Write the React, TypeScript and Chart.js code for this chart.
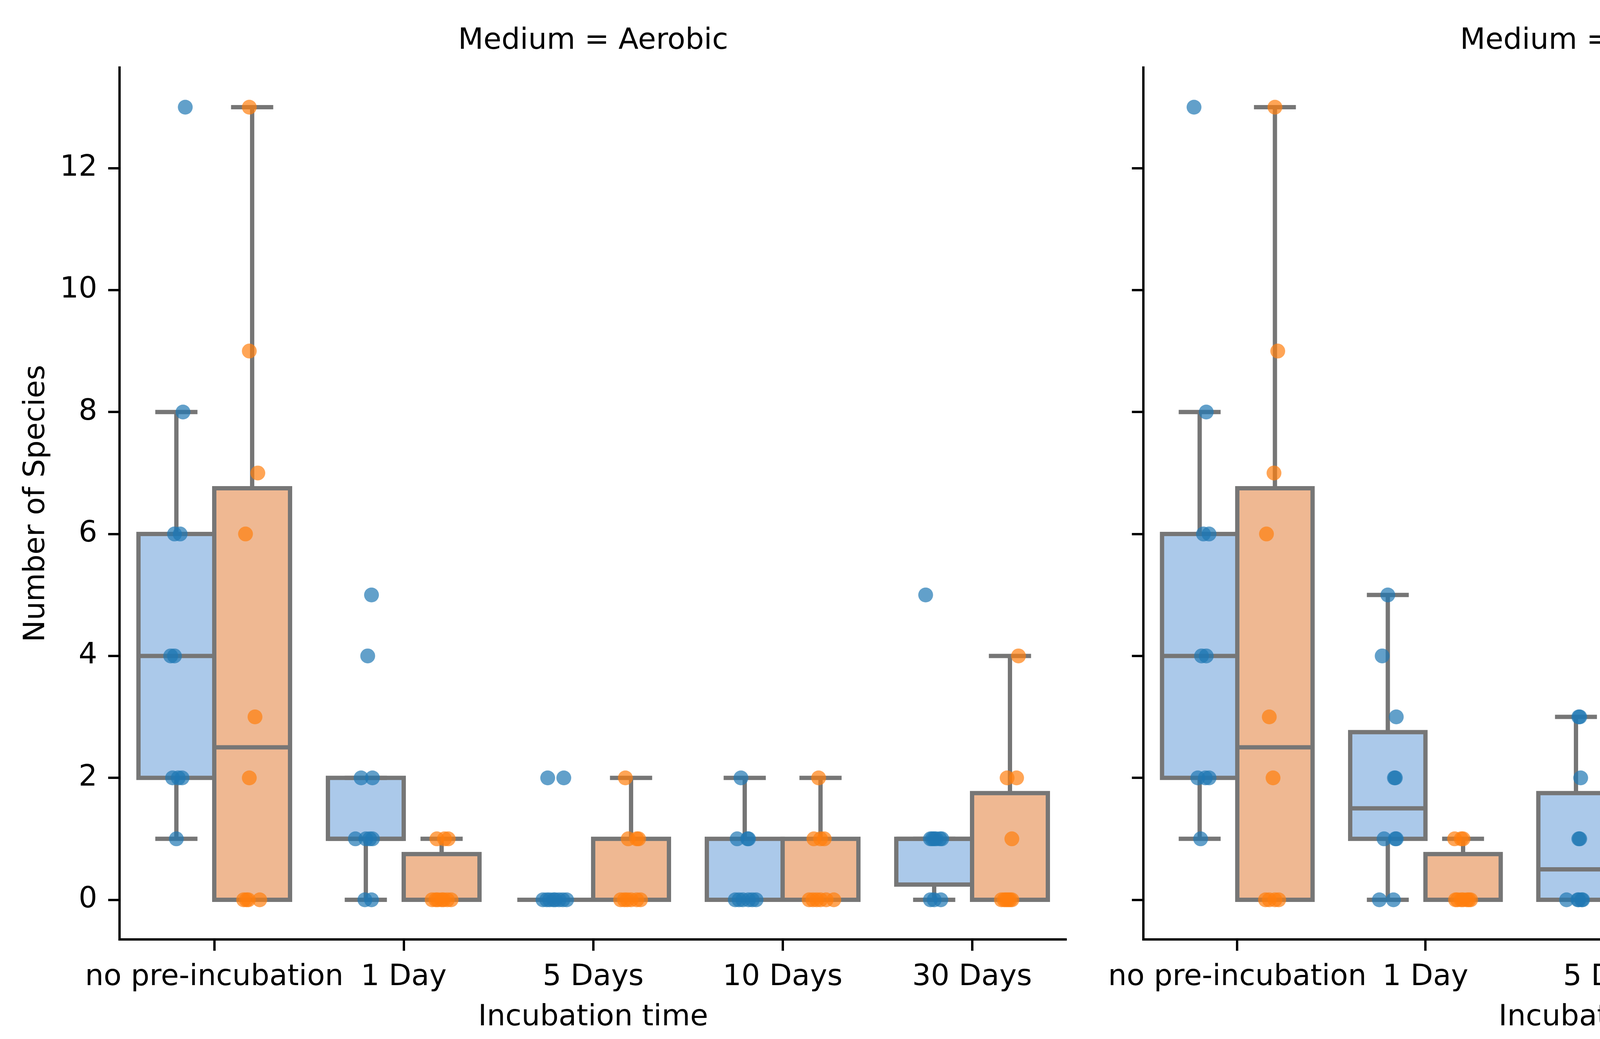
import React, { useEffect, useRef } from 'react';
import { Chart, registerables } from 'chart.js';

Chart.register(...registerables);

// ---------------- data ----------------
const categories = ['no pre-incubation', '1 Day', '5 Days', '10 Days', '30 Days'];
const seriesNames = ['Facultative anaerobe', 'Obligate anaerobe'];
const panelTitles = ['Medium = Aerobic', 'Medium = Anaerobic'];
const yTicks = [0, 2, 4, 6, 8, 10, 12];

// Number of species per sample, one inner list per incubation time
const aerobicFacultative = [
  [13, 8, 6, 6, 4, 4, 2, 2, 2, 1],
  [5, 4, 2, 2, 1, 1, 1, 1, 0, 0],
  [2, 2, 0, 0, 0, 0, 0, 0, 0, 0],
  [2, 1, 1, 1, 0, 0, 0, 0, 0, 0],
  [5, 1, 1, 1, 1, 1, 1, 0, 0, 0],
];
const aerobicObligate = [
  [13, 9, 7, 6, 3, 2, 0, 0, 0, 0],
  [1, 1, 1, 0, 0, 0, 0, 0, 0, 0],
  [2, 1, 1, 1, 0, 0, 0, 0, 0, 0],
  [2, 1, 1, 1, 0, 0, 0, 0, 0, 0],
  [4, 2, 2, 1, 0, 0, 0, 0, 0, 0],
];
const anaerobicFacultative = [
  [13, 8, 6, 6, 4, 4, 2, 2, 2, 1],
  [5, 4, 3, 2, 2, 1, 1, 1, 0, 0],
  [3, 3, 2, 1, 1, 0, 0, 0, 0, 0],
  [2, 1, 1, 1, 0, 0, 0, 0, 0, 0],
  [3, 2, 1, 1, 0, 0, 0, 0, 0, 0],
];
const anaerobicObligate = [
  [13, 9, 7, 6, 3, 2, 0, 0, 0, 0],
  [1, 1, 1, 0, 0, 0, 0, 0, 0, 0],
  [2, 2, 1, 0, 0, 0, 0, 0, 0, 0],
  [2, 1, 0, 0, 0, 0, 0, 0, 0, 0],
  [3, 1, 1, 0, 0, 0, 0, 0, 0, 0],
];

// Strip-plot jitter (category units), same order as the values
const aerobicFacultativeJitter = [
  [0.047, 0.035, -0.01, 0.02, -0.03, -0.01, -0.02, 0.01, 0.03, 0.0],
  [0.03, 0.01, -0.025, 0.035, -0.055, 0.0, 0.035, 0.02, -0.005, 0.03],
  [-0.04, 0.045, -0.065, -0.045, -0.03, -0.01, 0.0, 0.02, 0.04, 0.06],
  [-0.02, -0.04, 0.015, 0.02, -0.05, -0.03, -0.01, 0.02, 0.04, 0.06],
  [-0.045, -0.02, -0.01, 0.0, 0.01, 0.03, 0.04, -0.02, 0.0, 0.035],
];
const aerobicObligateJitter = [
  [-0.015, -0.015, 0.03, -0.035, 0.015, -0.015, -0.045, -0.03, -0.02, 0.04],
  [-0.025, 0.015, 0.035, -0.05, -0.03, -0.02, 0.0, 0.01, 0.03, 0.05],
  [-0.03, -0.015, 0.03, 0.04, -0.055, -0.035, -0.02, 0.0, 0.03, 0.05],
  [-0.01, -0.035, 0.0, 0.02, -0.06, -0.04, -0.02, 0.0, 0.03, 0.07],
  [0.045, -0.015, 0.035, 0.01, -0.045, -0.03, -0.02, -0.01, 0.0, 0.01],
];
const anaerobicFacultativeJitter = [
  [-0.03, 0.035, 0.02, 0.05, 0.01, 0.035, -0.01, 0.03, 0.05, 0.005],
  [0.0, -0.03, 0.045, 0.035, 0.04, -0.02, 0.04, 0.045, -0.045, 0.03],
  [0.015, 0.02, 0.025, 0.015, 0.02, -0.05, 0.01, 0.015, 0.03, 0.035],
  [-0.045, -0.01, 0.0, 0.01, -0.02, 0.0, 0.01, 0.02, 0.03, 0.04],
  [-0.035, 0.015, -0.05, -0.01, -0.05, -0.04, -0.02, -0.01, 0.01, 0.03],
];
const anaerobicObligateJitter = [
  [0.0, 0.015, -0.005, -0.045, -0.03, -0.01, -0.05, -0.03, 0.0, 0.02],
  [-0.045, -0.01, 0.0, -0.04, -0.03, -0.01, 0.0, 0.02, 0.03, 0.04],
  [-0.025, 0.005, -0.01, -0.05, -0.03, -0.02, -0.01, 0.0, 0.02, 0.04],
  [0.045, 0.02, -0.05, -0.035, -0.02, -0.01, 0.0, 0.01, 0.03, 0.065],
  [0.01, -0.02, -0.025, -0.035, -0.025, -0.015, -0.01, 0.0, 0.01, 0.04],
];

// ---------------- style ----------------
const FONT = "'DejaVu Sans', 'Liberation Sans', sans-serif";
const FS = 75;
const BOX_FILL = ['#abc9ea', '#efb892'];
const POINT_COLOR = ['rgba(31,119,180,0.7)', 'rgba(255,127,14,0.7)'];
const EDGE = '#767676';
const DODGE = [-0.2, 0.2];
const HALF_BOX = 0.2;
const HALF_CAP = 0.1;
const BOX_LW = 11;

function quantile(s: number[], p: number) {
  const idx = p * (s.length - 1);
  const lo = Math.floor(idx);
  const hi = Math.ceil(idx);
  return s[lo] + (s[hi] - s[lo]) * (idx - lo);
}

function boxStats(values: number[]) {
  const s = [...values].sort((a, b) => a - b);
  const q1 = quantile(s, 0.25);
  const med = quantile(s, 0.5);
  const q3 = quantile(s, 0.75);
  const iqr = q3 - q1;
  const lowF = q1 - 1.5 * iqr;
  const highF = q3 + 1.5 * iqr;
  const inside = s.filter((v) => v >= lowF && v <= highF);
  return { q1, med, q3, lo: Math.min(...inside), hi: Math.max(...inside) };
}

const boxPlugin = {
  id: 'boxes',
  beforeDatasetsDraw(chart: any, _args: any, opts: any) {
    const groups = (opts && opts.groups) || [];
    const xs = chart.scales.x;
    const ys = chart.scales.y;
    const ctx = chart.ctx as CanvasRenderingContext2D;
    ctx.save();
    ctx.strokeStyle = EDGE;
    ctx.lineWidth = BOX_LW;
    ctx.lineJoin = 'miter';
    const line = (x0: number, y0: number, x1: number, y1: number, cap: CanvasLineCap) => {
      ctx.lineCap = cap;
      ctx.beginPath();
      ctx.moveTo(x0, y0);
      ctx.lineTo(x1, y1);
      ctx.stroke();
    };
    for (const g of groups) {
      const st = boxStats(g.values);
      const x0 = xs.getPixelForValue(g.pos - HALF_BOX);
      const x1 = xs.getPixelForValue(g.pos + HALF_BOX);
      const xc = xs.getPixelForValue(g.pos);
      const c0 = xs.getPixelForValue(g.pos - HALF_CAP);
      const c1 = xs.getPixelForValue(g.pos + HALF_CAP);
      const yq1 = ys.getPixelForValue(st.q1);
      const yq3 = ys.getPixelForValue(st.q3);
      const ymed = ys.getPixelForValue(st.med);
      const ylo = ys.getPixelForValue(st.lo);
      const yhi = ys.getPixelForValue(st.hi);
      ctx.fillStyle = g.fill;
      ctx.fillRect(x0, yq3, x1 - x0, yq1 - yq3);
      ctx.lineCap = 'butt';
      ctx.strokeRect(x0, yq3, x1 - x0, yq1 - yq3);
      line(xc, yq3, xc, yhi, 'butt');
      line(xc, yq1, xc, ylo, 'butt');
      line(c0, yhi, c1, yhi, 'square');
      line(c0, ylo, c1, ylo, 'square');
      line(x0, ymed, x1, ymed, 'butt');
    }
    ctx.restore();
  },
};

type PanelProps = {
  title: string;
  facultative: number[][];
  facultativeJitter: number[][];
  obligate: number[][];
  obligateJitter: number[][];
  left: number;
  width: number;
  yAxisWidth: number;
  rightPad: number;
  showYLabels: boolean;
};

const HEIGHT = 2661;

function Panel(p: PanelProps) {
  const ref = useRef<HTMLCanvasElement | null>(null);
  useEffect(() => {
    if (!ref.current) return;
    const series = [
      { values: p.facultative, jitter: p.facultativeJitter },
      { values: p.obligate, jitter: p.obligateJitter },
    ];
    const groups: any[] = [];
    const datasets = series.map((s, si) => {
      const data: { x: number; y: number }[] = [];
      s.values.forEach((vals, ci) => {
        groups.push({ pos: ci + DODGE[si], values: vals, fill: BOX_FILL[si] });
        vals.forEach((v, k) => data.push({ x: ci + DODGE[si] + s.jitter[ci][k], y: v }));
      });
      return {
        label: seriesNames[si],
        data,
        backgroundColor: POINT_COLOR[si],
        borderWidth: 0,
        pointRadius: 19,
        pointHoverRadius: 19,
        pointBorderWidth: 0,
      };
    });
    const font = { family: FONT, size: FS, weight: 'normal' as const, lineHeight: 1.2 };
    const chart = new Chart(ref.current, {
      type: 'scatter',
      data: { datasets },
      plugins: [boxPlugin as any],
      options: {
        animation: false,
        responsive: false,
        maintainAspectRatio: false,
        devicePixelRatio: 1,
        events: [],
        layout: { padding: { left: 0, right: p.rightPad, top: 0, bottom: 0 } },
        plugins: {
          legend: { display: false },
          tooltip: { enabled: false },
          title: {
            display: true,
            text: p.title,
            color: '#000',
            font,
            fullSize: false,
            padding: { top: 61, bottom: 22 },
          },
          // @ts-ignore
          boxes: { groups },
        },
        scales: {
          x: {
            type: 'linear',
            min: -0.5,
            max: 4.5,
            afterBuildTicks: (scale: any) => {
              scale.ticks = categories.map((_, i) => ({ value: i }));
            },
            afterFit: (scale: any) => {
              scale.height = 255;
            },
            ticks: {
              callback: (v: any) => categories[Math.round(Number(v))],
              autoSkip: false,
              maxRotation: 0,
              minRotation: 0,
              color: '#000',
              font,
              padding: 24,
            },
            grid: {
              display: true,
              drawOnChartArea: false,
              drawTicks: true,
              tickLength: 29,
              tickWidth: 6,
              tickColor: '#000',
              lineWidth: 0,
            },
            border: { display: true, color: '#000', width: 6 },
            title: {
              display: true,
              text: 'Incubation time',
              color: '#000',
              font,
              padding: { top: 0, bottom: 9 },
            },
          },
          y: {
            type: 'linear',
            min: -0.65,
            max: 13.65,
            afterBuildTicks: (scale: any) => {
              scale.ticks = yTicks.map((v) => ({ value: v }));
            },
            afterFit: (scale: any) => {
              scale.width = p.yAxisWidth;
            },
            ticks: {
              display: p.showYLabels,
              color: '#000',
              font,
              padding: 28,
              callback: (v: any) => String(v),
            },
            grid: {
              display: true,
              drawOnChartArea: false,
              drawTicks: true,
              tickLength: 29,
              tickWidth: 6,
              tickColor: '#000',
              lineWidth: 0,
            },
            border: { display: true, color: '#000', width: 6 },
            title: {
              display: p.showYLabels,
              text: 'Number of Species',
              color: '#000',
              font,
              padding: { top: 49, bottom: 0 },
            },
          },
        },
      } as any,
    });
    return () => chart.destroy();
  }, []);
  return (
    <canvas
      ref={ref}
      width={p.width}
      height={HEIGHT}
      style={{ position: 'absolute', left: p.left, top: 0, width: p.width, height: HEIGHT }}
    />
  );
}

function LegendRow({ top, fill, label }: { top: number; fill: string; label: string }) {
  return (
    <>
      <div
        style={{
          position: 'absolute',
          left: 5335,
          top: top + 12,
          width: 152,
          height: 54,
          background: fill,
          border: `7px solid ${EDGE}`,
          boxSizing: 'border-box',
        }}
      />
      <div
        style={{
          position: 'absolute',
          left: 5516,
          top,
          font: `${FS}px ${FONT}`,
          lineHeight: `${FS}px`,
          color: '#000',
          whiteSpace: 'nowrap',
        }}
      >
        {label}
      </div>
    </>
  );
}

export default function App() {
  useEffect(() => {
    document.body.style.margin = '0';
    document.body.style.overflow = 'hidden';
  }, []);
  return (
    <div
      style={{
        position: 'fixed',
        left: 0,
        top: 0,
        width: 6340,
        height: HEIGHT,
        background: '#fff',
        overflow: 'hidden',
      }}
    >
      <Panel
        title={panelTitles[0]}
        facultative={aerobicFacultative}
        facultativeJitter={aerobicFacultativeJitter}
        obligate={aerobicObligate}
        obligateJitter={aerobicObligateJitter}
        left={0}
        width={2800}
        yAxisWidth={306}
        rightPad={69}
        showYLabels={true}
      />
      <Panel
        title={panelTitles[1]}
        facultative={anaerobicFacultative}
        facultativeJitter={anaerobicFacultativeJitter}
        obligate={anaerobicObligate}
        obligateJitter={anaerobicObligateJitter}
        left={2800}
        width={2600}
        yAxisWidth={108}
        rightPad={65}
        showYLabels={false}
      />
      <LegendRow top={1094} fill={BOX_FILL[0]} label={seriesNames[0]} />
      <LegendRow top={1206} fill={BOX_FILL[1]} label={seriesNames[1]} />
    </div>
  );
}
